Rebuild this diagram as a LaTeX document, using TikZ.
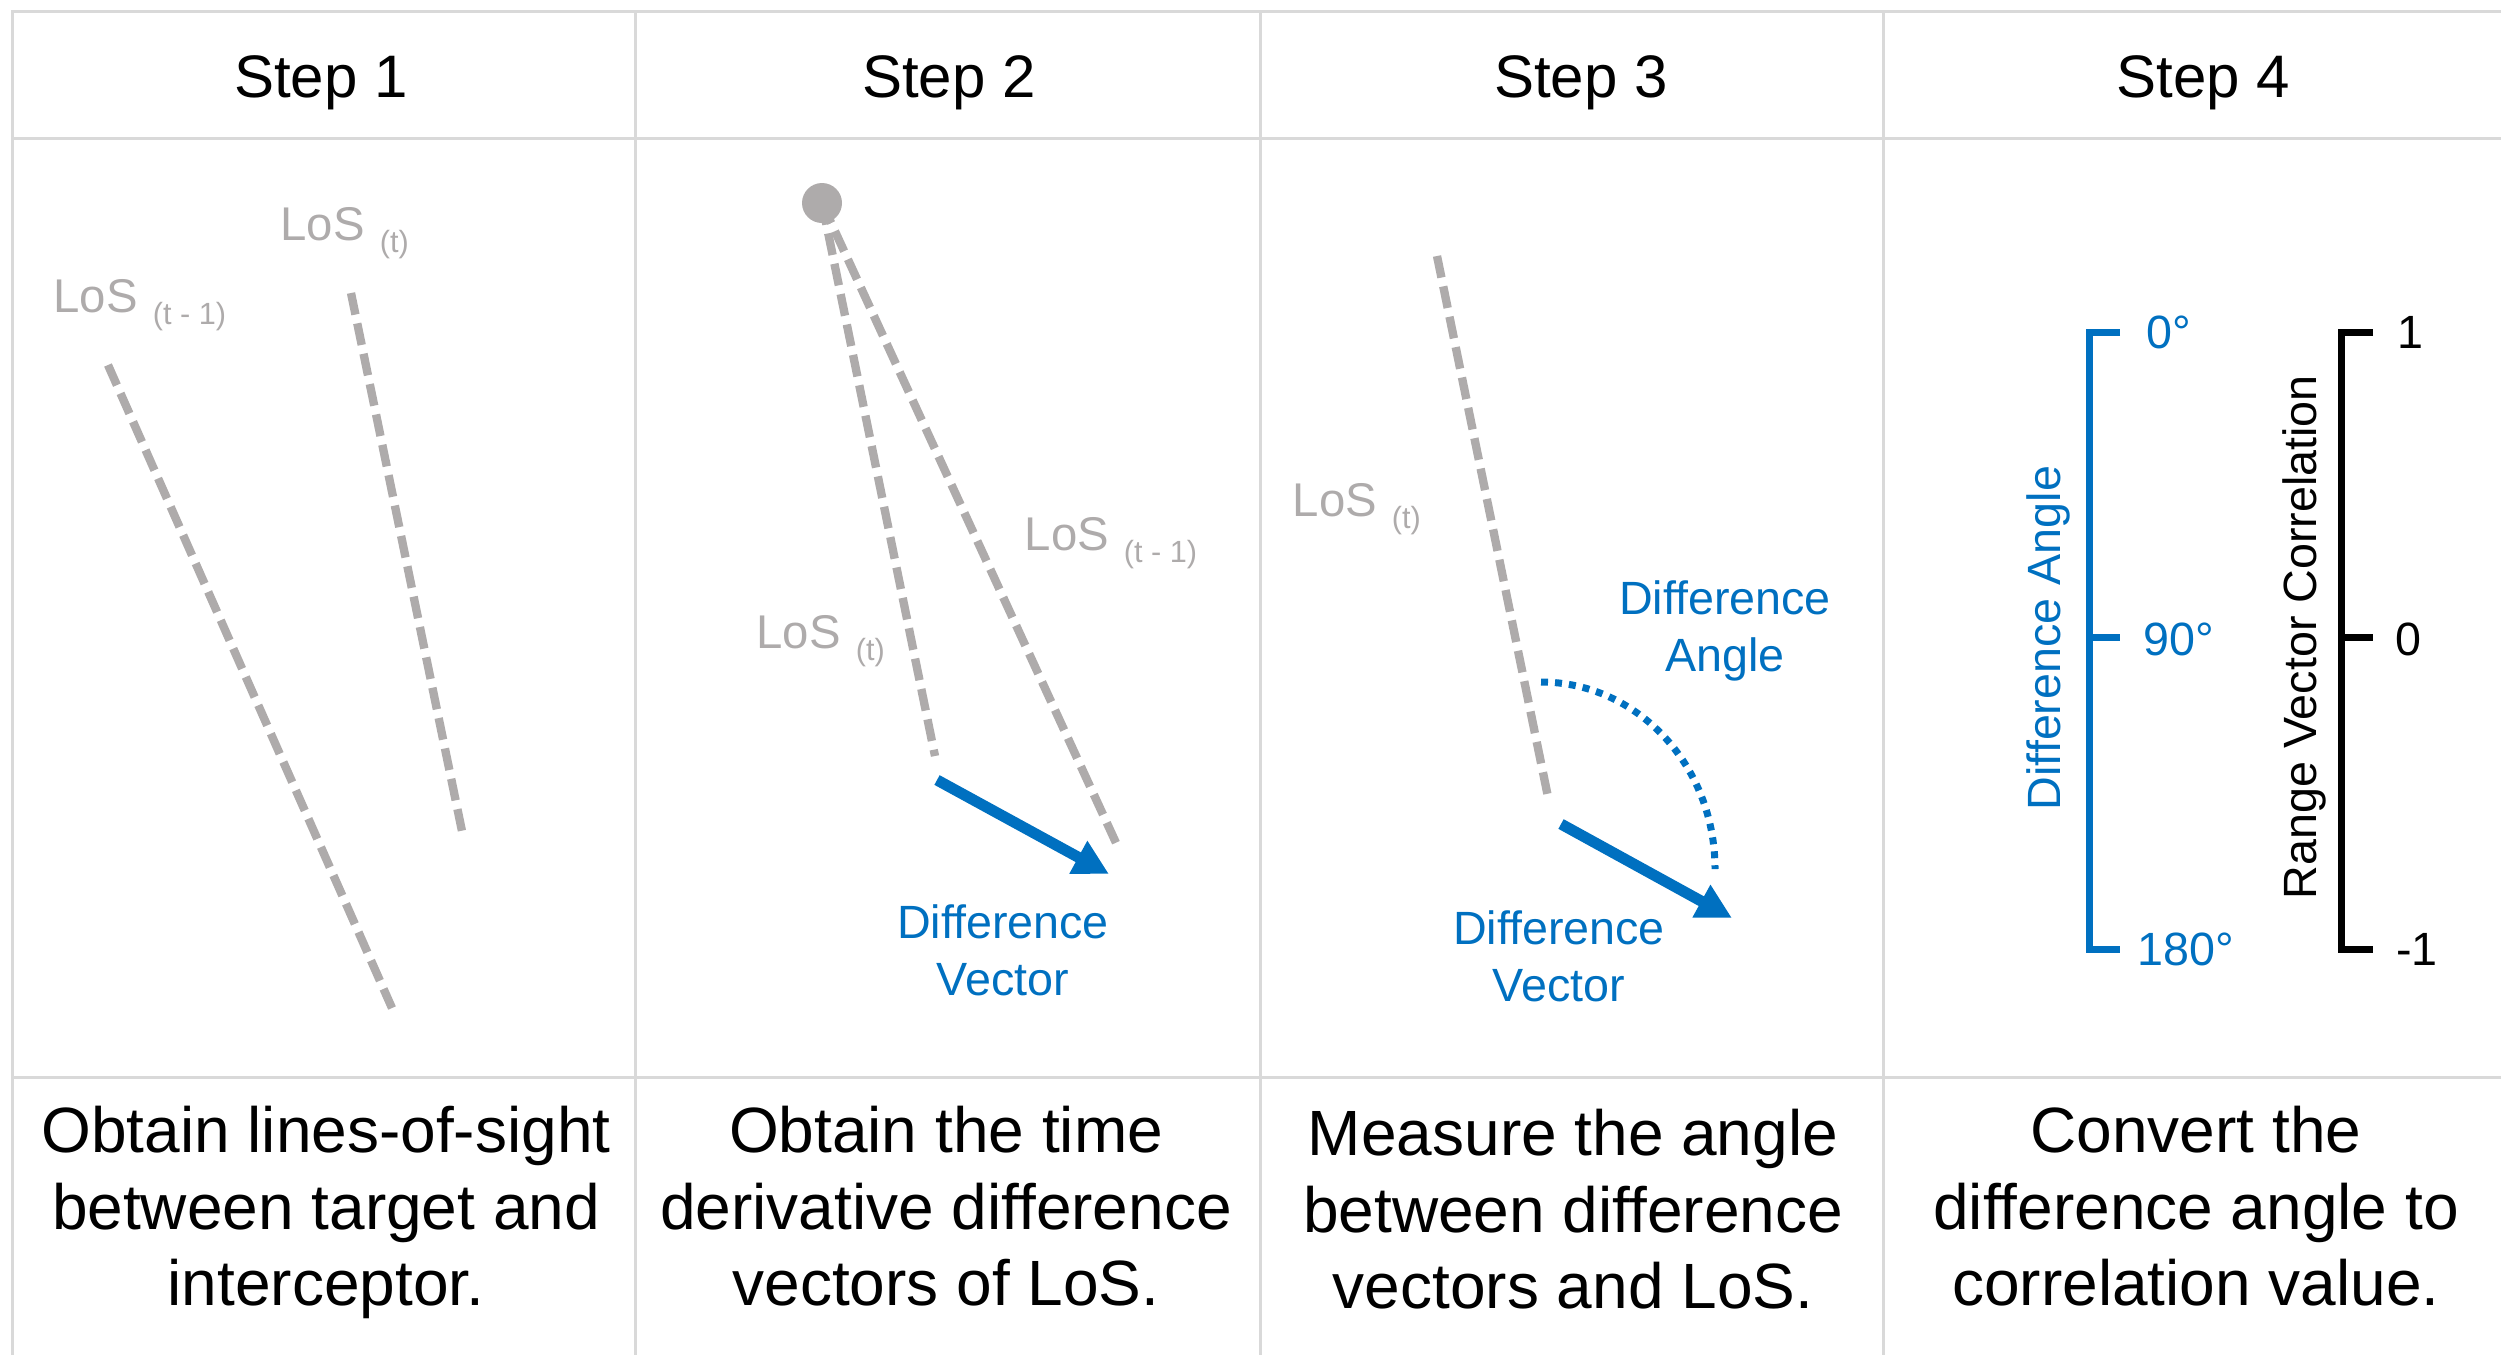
\documentclass[tikz,border=0pt]{standalone}
\usepackage{fontspec}
\setmainfont{Liberation Sans}
\usetikzlibrary{arrows.meta}
\definecolor{losgray}{HTML}{AEABAB}
\definecolor{dblue}{HTML}{0070C0}
\definecolor{gridgray}{HTML}{D9D9D9}
\newcommand{\LoSlab}[1]{LoS\hspace{4.5pt}\raisebox{-3.8pt}{\fontsize{9.2pt}{10pt}\selectfont (#1)}}
\begin{document}
\begin{tikzpicture}[x=0.3pt,y=-0.3pt,
  grid/.style={draw=gridgray,line width=0.9pt},
  los/.style={draw=losgray,line width=2.5pt,dash pattern=on 6.6pt off 2.7pt},
  diffvec/.style={draw=dblue,line width=3.3pt,-{Triangle[length=10.5pt,width=10.5pt]}},
  angarc/.style={draw=dblue,line width=2.1pt,dash pattern=on 2.1pt off 2.1pt},
  head/.style={font=\fontsize{18pt}{21.6pt}\selectfont,anchor=base,inner sep=0pt},
  desc/.style={font=\fontsize{19.2pt}{23pt}\selectfont,anchor=base,inner sep=0pt},
  loslabel/.style={text=losgray,font=\fontsize{14.2pt}{17pt}\selectfont,anchor=base west,inner sep=0pt},
  bluelabel/.style={text=dblue,font=\fontsize{14pt}{17pt}\selectfont,anchor=base,inner sep=0pt},
  ticklabel/.style={font=\fontsize{14pt}{17pt}\selectfont,inner sep=0pt},
  scalebar/.style={line width=2.1pt,line join=miter}]
\useasboundingbox (0,0) rectangle (2501,1355);
% table grid
\draw[grid] (11,11.5) -- (2501,11.5);
\draw[grid] (11,138) -- (2501,138);
\draw[grid] (11,1077) -- (2501,1077);
\draw[grid] (12.5,10) -- (12.5,1355);
\draw[grid] (635.5,11.5) -- (635.5,1355);
\draw[grid] (1260,11.5) -- (1260,1355);
\draw[grid] (1883,11.5) -- (1883,1355);
% headers
\node[head] (h1) at (321,97) {Step 1};
\node[head] (h2) at (949,97) {Step 2};
\node[head] (h3) at (1581,97) {Step 3};
\node[head] (h4) at (2203,97) {Step 4};
% descriptions
\node[desc] (d1a) at (326,1152) {Obtain lines-of-sight};
\node[desc] (d1b) at (326,1229) {between target and};
\node[desc] (d1c) at (326,1305) {interceptor.};
\node[desc] (d2a) at (946,1152) {Obtain the time};
\node[desc] (d2b) at (946,1229) {derivative difference};
\node[desc] (d2c) at (946,1305) {vectors of LoS.};
\node[desc] (d3a) at (1573,1155) {Measure the angle};
\node[desc] (d3b) at (1573,1232) {between difference};
\node[desc] (d3c) at (1573,1308) {vectors and LoS.};
\node[desc] (d4a) at (2196,1152) {Convert the};
\node[desc] (d4b) at (2196,1229) {difference angle to};
\node[desc] (d4c) at (2196,1305) {correlation value.};
% Step 1
\coordinate (a1) at (108,365);
\coordinate (a2) at (392,1008);
\coordinate (b1) at (351,293);
\coordinate (b2) at (463,836);
\draw[los] (a1) -- (a2);
\draw[los] (b1) -- (b2);
\node[loslabel] (l1a) at (53,312) {\LoSlab{t - 1}};
\node[loslabel] (l1b) at (280,240) {\LoSlab{t}};
% Step 2
\coordinate (c0) at (822,203);
\coordinate (c1) at (935,756);
\coordinate (c2) at (1117,845);
\draw[los] (c0) -- (c1);
\draw[los] (c0) -- (c2);
\fill[losgray] (c0) circle[radius=6pt];
\node[circle,inner sep=0pt,minimum size=12pt] (dot) at (c0) {};
\coordinate (v1) at (937,780);
\coordinate (v2) at (1109,874);
\draw[diffvec] (v1) -- (v2);
\node[loslabel] (l2a) at (756,648) {\LoSlab{t}};
\node[loslabel] (l2b) at (1024,550) {\LoSlab{t - 1}};
\node[bluelabel] (dv2a) at (1003,938) {Difference};
\node[bluelabel] (dv2b) at (1003,995) {Vector};
% Step 3
\coordinate (e1) at (1437,256);
\coordinate (e2) at (1548,797);
\draw[los] (e1) -- (e2);
\coordinate (w1) at (1561,824);
\coordinate (w2) at (1732,918);
\draw[diffvec] (w1) -- (w2);
\coordinate (g1) at (1541,682);
\coordinate (g2) at (1715,869);
\draw[angarc] (g1) .. controls (1637,682) and (1715,765) .. (g2);
\node[loslabel] (l3a) at (1292,516) {\LoSlab{t}};
\node[bluelabel] (da3a) at (1725,614) {Difference};
\node[bluelabel] (da3b) at (1725,671) {Angle};
\node[bluelabel] (dv3a) at (1559,944) {Difference};
\node[bluelabel] (dv3b) at (1559,1001) {Vector};
% Step 4
\draw[scalebar,draw=dblue] (2120,332) -- (2089,332) -- (2089,949) -- (2120,949);
\draw[scalebar,draw=dblue] (2089,637) -- (2120,637);
\draw[scalebar,draw=black] (2373,332) -- (2341,332) -- (2341,949) -- (2373,949);
\draw[scalebar,draw=black] (2341,637) -- (2373,637);
\node[ticklabel,text=dblue] (t0) at (2169,332) {0°};
\node[ticklabel,text=dblue] (t90) at (2179,639) {90°};
\node[ticklabel,text=dblue] (t180) at (2186,949) {180°};
\node[ticklabel] (r1) at (2410,332) {1};
\node[ticklabel] (r0) at (2408,639) {0};
\node[ticklabel] (rm1) at (2417,949) {-1};
\node[ticklabel,text=dblue,rotate=90] (ax1) at (2048,638) {Difference Angle};
\node[ticklabel,rotate=90] (ax2) at (2304,637) {Range Vector Correlation};
\end{tikzpicture}
\end{document}
